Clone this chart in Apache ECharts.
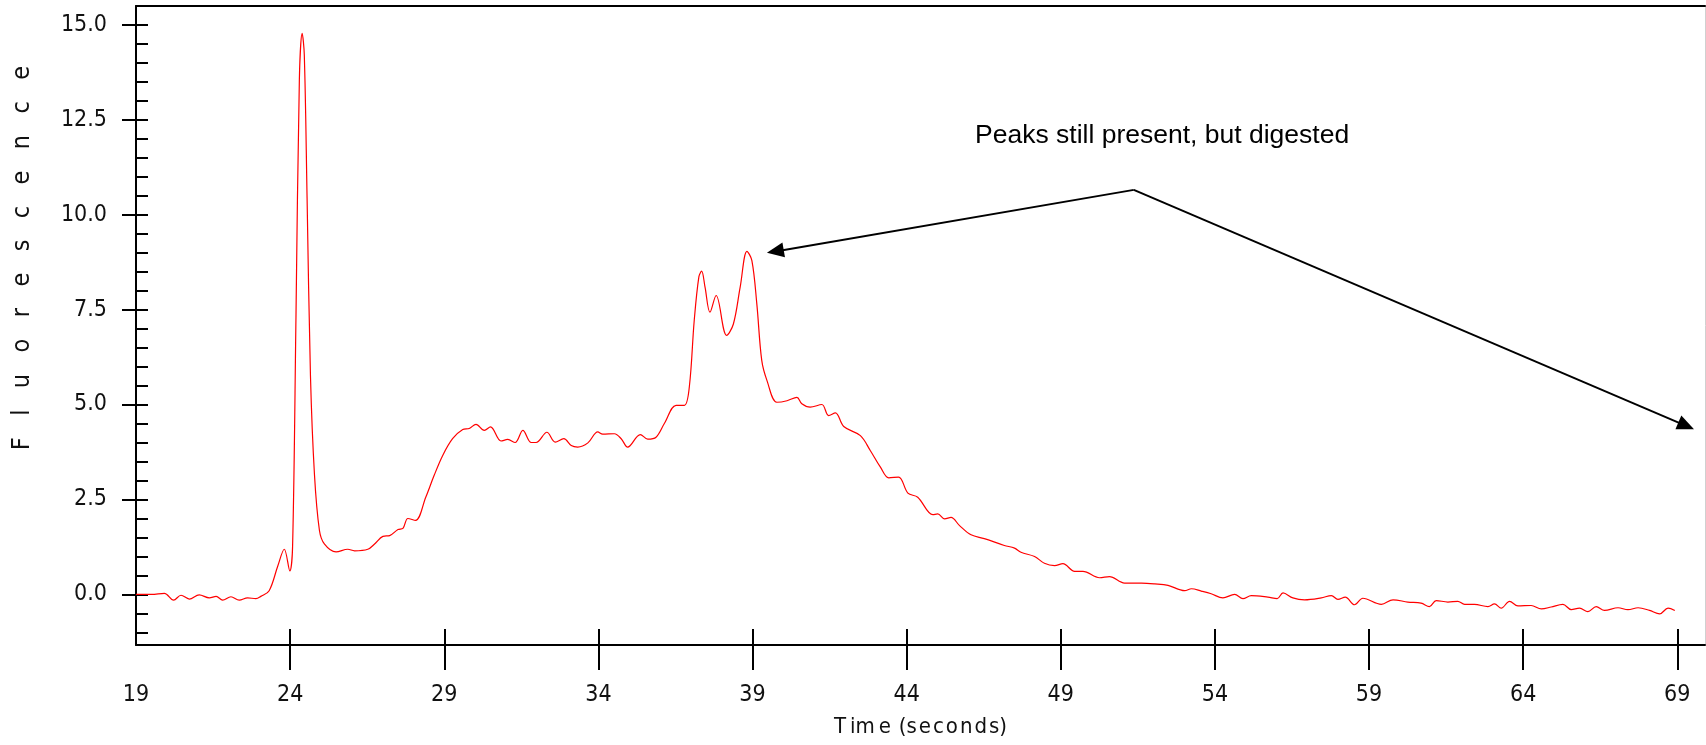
<!DOCTYPE html>
<html>
<head>
<meta charset="utf-8">
<script src="https://cdn.jsdelivr.net/npm/echarts@6/dist/echarts.min.js"></script>
<style>
html,body{margin:0;padding:0;background:#fff;}
#chart{width:1706px;height:745px;}
</style>
</head>
<body>
<div id="chart"></div>
<script>
// ---- data ----
const times = [19.0,19.5,19.92,20.22,20.46,20.73,21.05,21.38,21.6,21.81,22.08,22.35,22.62,22.89,23.05,23.32,23.6,23.81,23.99,24.08,24.19,24.3,24.39,24.46,24.55,24.66,24.79,24.95,25.11,25.49,25.87,26.09,26.52,26.74,27.01,27.23,27.5,27.66,27.82,28.07,28.4,28.67,28.95,29.27,29.6,29.81,30.03,30.3,30.5,30.84,31.06,31.3,31.55,31.82,31.98,32.33,32.6,32.88,33.12,33.33,33.66,33.98,34.14,34.52,34.74,34.95,35.36,35.6,35.87,36.14,36.52,36.79,36.95,37.11,37.26,37.35,37.46,37.62,37.82,38.16,38.38,38.6,38.82,38.98,39.14,39.3,39.47,39.79,40.12,40.44,40.6,40.87,41.25,41.47,41.69,41.96,42.5,42.82,43.15,43.42,43.74,44.04,44.36,44.85,45.01,45.23,45.44,45.71,46.09,46.52,47.17,47.5,47.71,48.15,48.47,48.8,49.07,49.45,49.72,50.26,50.58,51.07,51.62,52.05,52.48,53.02,53.24,53.56,53.88,54.26,54.64,54.91,55.18,55.72,56.02,56.21,56.53,56.91,57.45,57.78,57.99,58.23,58.53,58.8,59.4,59.78,60.26,60.69,60.96,61.18,61.56,61.88,62.1,62.42,62.86,63.07,63.29,63.56,63.83,64.26,64.59,64.91,65.29,65.56,65.83,66.1,66.37,66.64,67.08,67.4,67.73,68.1,68.43,68.7,68.92];
const fluorescence = [0.0,0.0,0.03,-0.15,-0.02,-0.12,-0.01,-0.09,-0.05,-0.15,-0.06,-0.15,-0.09,-0.11,-0.05,0.1,0.75,1.19,0.62,1.27,7.31,13.57,14.77,14.2,10.44,5.75,3.15,1.69,1.33,1.12,1.19,1.15,1.19,1.33,1.53,1.55,1.71,1.74,2.0,1.95,2.56,3.13,3.66,4.1,4.34,4.37,4.48,4.32,4.41,4.04,4.08,4.0,4.32,4.0,4.0,4.27,4.01,4.1,3.92,3.88,3.99,4.28,4.22,4.23,4.1,3.88,4.21,4.09,4.14,4.5,4.98,4.98,5.46,7.22,8.36,8.51,8.09,7.43,7.87,6.82,7.12,8.09,9.03,8.79,7.65,6.16,5.63,5.06,5.1,5.19,5.02,4.93,5.0,4.71,4.78,4.42,4.18,3.79,3.35,3.07,3.09,2.67,2.56,2.1,2.12,1.99,2.03,1.82,1.57,1.47,1.29,1.22,1.11,1.0,0.82,0.76,0.81,0.61,0.61,0.44,0.47,0.3,0.3,0.28,0.24,0.1,0.15,0.09,0.02,-0.09,0.0,-0.11,-0.03,-0.07,-0.11,0.04,-0.09,-0.14,-0.09,-0.03,-0.13,-0.07,-0.27,-0.1,-0.26,-0.14,-0.2,-0.23,-0.32,-0.16,-0.2,-0.18,-0.26,-0.26,-0.32,-0.25,-0.36,-0.18,-0.3,-0.29,-0.38,-0.33,-0.26,-0.4,-0.36,-0.45,-0.32,-0.42,-0.35,-0.4,-0.35,-0.42,-0.51,-0.36,-0.42];

const xLabelValues = [19,24,29,34,39,44,49,54,59,64,69];
const xTickValues  = [24,29,34,39,44,49,54,59,64,69];
const yLabelValues = [0,2.5,5,7.5,10,12.5,15];
const yMinorValues = [-1,-0.5,0,0.5,1,1.5,2,2.5,3,3.5,4,4.5,5,5.5,6,6.5,7,7.5,8,8.5,9,9.5,10,10.5,11,11.5,12,12.5,13,13.5,14,14.5,15];

const annotationText = 'Peaks still present, but digested';
const arrowApex = [51.37, 10.65];
const arrowHead1 = [39.74, 9.03];
const arrowHead2 = [69.29, 4.44];

const xName = 'T\u2009im\u2009e\u2009\u2009(s\u200Ae\u200Ac\u200Ao\u200An\u200Ad\u200As)';
const yName = 'F   l   u   o   r   e   s   c   e   n   c   e';

// ---- chart ----
const narrow = "'Liberation Sans Narrow','DejaVu Sans Condensed',sans-serif";
const X_MIN = 19, X_MAX = 69.9, Y_MIN = -1.33, Y_MAX = 15.49;

const chart = echarts.init(document.getElementById('chart'), null, {renderer: 'canvas'});
const pts = times.map((t, i) => [t, fluorescence[i]]);

const option = {
  animation: false,
  backgroundColor: '#ffffff',
  grid: {left: 136, top: 6, right: 1, bottom: 100, containLabel: false},
  xAxis: [
    {
      type: 'value', min: X_MIN, max: X_MAX, position: 'bottom',
      axisLine: {show: true, onZero: false, lineStyle: {color: '#000', width: 2}},
      axisTick: {show: true, inside: false, length: 25, customValues: xTickValues, lineStyle: {color: '#000', width: 2}},
      axisLabel: {show: true, customValues: xLabelValues, margin: 39, color: '#111', fontFamily: narrow, fontSize: 23},
      splitLine: {show: false},
      name: xName, nameLocation: 'middle', nameGap: 71,
      nameTextStyle: {color: '#111', fontFamily: narrow, fontSize: 22}
    },
    {
      type: 'value', min: X_MIN, max: X_MAX, position: 'bottom',
      axisLine: {show: false, onZero: false},
      axisTick: {show: true, inside: true, length: 16, customValues: xTickValues, lineStyle: {color: '#000', width: 2}},
      axisLabel: {show: false},
      splitLine: {show: false}
    },
    {
      type: 'value', min: X_MIN, max: X_MAX, position: 'top',
      axisLine: {show: true, onZero: false, lineStyle: {color: '#000', width: 2}},
      axisTick: {show: false}, axisLabel: {show: false}, splitLine: {show: false}
    }
  ],
  yAxis: [
    {
      type: 'value', min: Y_MIN, max: Y_MAX, position: 'left',
      axisLine: {show: true, onZero: false, lineStyle: {color: '#000', width: 2}},
      axisTick: {show: true, inside: false, length: 14, customValues: yLabelValues, lineStyle: {color: '#000', width: 2}},
      axisLabel: {show: true, customValues: yLabelValues, margin: 29, color: '#111', fontFamily: narrow, fontSize: 23,
        formatter: v => Number(v).toFixed(1)},
      splitLine: {show: false}
    },
    {
      type: 'value', min: Y_MIN, max: Y_MAX, position: 'left',
      axisLine: {show: false, onZero: false},
      axisTick: {show: true, inside: true, length: 12, customValues: yMinorValues, lineStyle: {color: '#000', width: 2}},
      axisLabel: {show: false}, splitLine: {show: false}
    },
    {
      type: 'value', min: Y_MIN, max: Y_MAX, position: 'right',
      axisLine: {show: true, onZero: false, lineStyle: {color: '#d0d0d0', width: 1}},
      axisTick: {show: false}, axisLabel: {show: false}, splitLine: {show: false}
    }
  ],
  graphic: [
    {
      type: 'text', x: 22, y: 258, rotation: Math.PI / 2,
      style: {text: yName, fill: '#111', font: "25px 'Liberation Sans Narrow','DejaVu Sans Condensed',sans-serif",
        align: 'center', verticalAlign: 'middle'}
    },
    {
      type: 'text', x: 975, y: 136,
      style: {text: annotationText, fill: '#000', font: "26.5px 'Liberation Sans',Arial,sans-serif",
        align: 'left', verticalAlign: 'middle'}
    }
  ],
  series: [
    {
      type: 'line', xAxisIndex: 0, yAxisIndex: 0,
      data: pts, showSymbol: false, smooth: 0.35,
      lineStyle: {color: '#ff0000', width: 1.2},
      itemStyle: {color: '#ff0000'},
      markLine: {
        silent: true, animation: false,
        symbol: ['none', 'triangle'], symbolSize: [15, 17],
        label: {show: false},
        lineStyle: {color: '#000', width: 2, type: 'solid'},
        emphasis: {disabled: true},
        data: [
          [{coord: arrowApex}, {coord: arrowHead1}],
          [{coord: arrowApex}, {coord: arrowHead2}]
        ]
      }
    }
  ]
};
chart.setOption(option);
</script>
</body>
</html>
